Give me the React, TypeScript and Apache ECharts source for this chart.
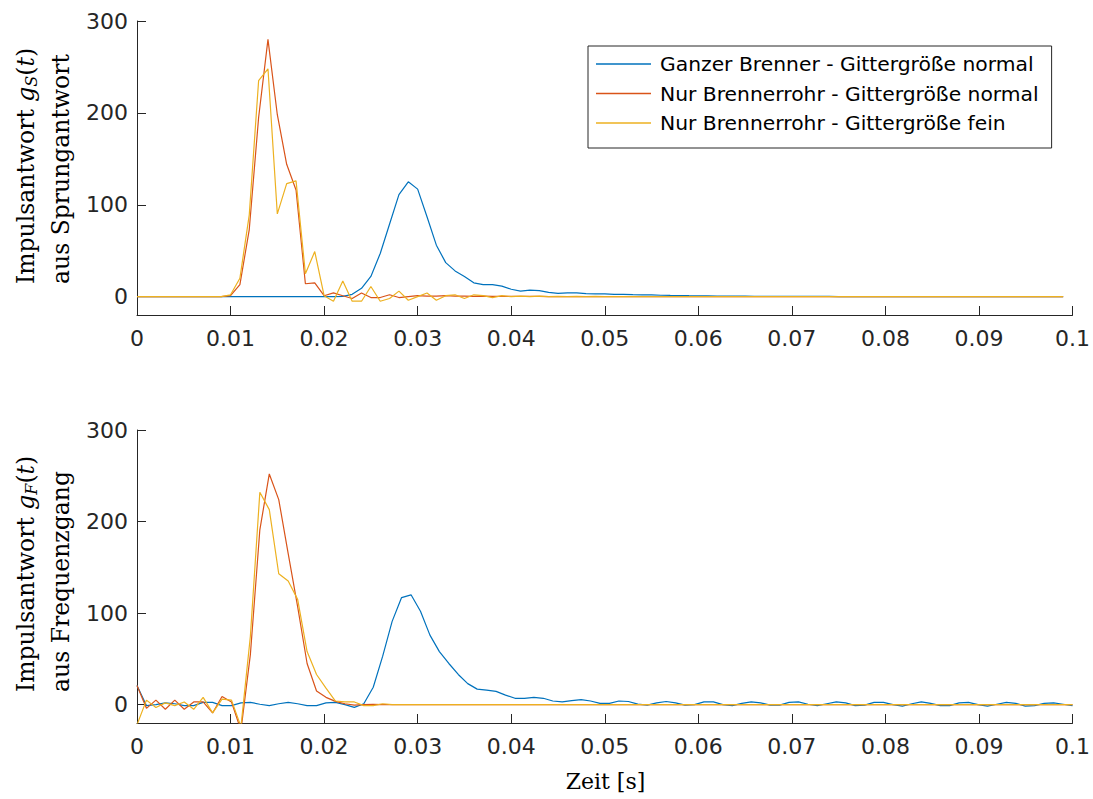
import React, { useEffect, useRef } from "react";
import * as echarts from "echarts";

// ---------- data ----------
const TOP_DT = 0.001; // Sprungantwort: 100 samples, 0 ... 0.099 s
const BOT_DT = 0.1 / 99; // Frequenzgang: 100 samples, 0 ... 0.1 s

const seriesNames = [
  "Ganzer Brenner - Gittergröße normal",
  "Nur Brennerrohr - Gittergröße normal",
  "Nur Brennerrohr - Gittergröße fein",
];
const colors = ["#0072BD", "#D95319", "#EDB120"];
const yTicks = [0, 100, 200, 300];

const topBlue = [
  0, 0, 0, 0, 0, 0, 0, 0, 0, 0,
  0, 0, 0, 0, 0, 0, 0, 0, 0, 0,
  0, 0, 0.3, 2.5, 9, 22, 47, 79, 111, 125,
  117, 87, 56, 37, 28, 22, 15, 13, 13, 11.5,
  8, 6, 7, 6.5, 4.7, 3.6, 4, 4, 3.3, 3,
  3, 2.5, 2.5, 2.2, 2, 1.8, 1.5, 1.3, 1.2, 1,
  0.9, 0.8, 0.7, 0.6, 0.5, 0.5, 0.4, 0.4, 0.3, 0.3,
  0.3, 0.2, 0.2, 0.2, 0.2, 0.1, 0.1, 0.1, 0.1, 0.1,
  0.1, 0.1, 0, 0, 0, 0, 0, 0, 0, 0,
  0, 0, 0, 0, 0, 0, 0, 0, 0, 0,
];
const topRed = [
  0, 0, 0, 0, 0, 0, 0, 0, 0, 0,
  1, 13, 73, 195, 280, 198, 144, 116, 14, 15,
  1, 4, 1, -2, 4, -1, -1, 2, -1, 0,
  1, 0.5, 0.5, 1, 0.5, 0.5, 0.3, 0.5, 0.3, 0.3,
  0.2, 0.2, 0.2, 0.2, 0.1, 0.1, 0.1, 0.1, 0.1, 0.1,
  0, 0, 0, 0, 0, 0, 0, 0, 0, 0,
  0, 0, 0, 0, 0, 0, 0, 0, 0, 0,
  0, 0, 0, 0, 0, 0, 0, 0, 0, 0,
  0, 0, 0, 0, 0, 0, 0, 0, 0, 0,
  0, 0, 0, 0, 0, 0, 0, 0, 0, 0,
];
const topYellow = [
  0, 0, 0, 0, 0, 0, 0, 0, 0, 0,
  2, 20, 89, 235, 248, 90, 123, 126, 25, 49,
  1, -5, 17, -5, -5, 11, -5, -2, 6, -4,
  0, 4, -4, 1, 2, -2, 2, 1, -1, 1,
  0, 0.5, 0, 0.5, 0, 0.3, 0, 0.3, 0, 0.2,
  0, 0, 0, 0, 0, 0, 0, 0, 0, 0,
  0, 0, 0, 0, 0, 0, 0, 0, 0, 0,
  0, 0, 0, 0, 0, 0, 0, 0, 0, 0,
  0, 0, 0, 0, 0, 0, 0, 0, 0, 0,
  0, 0, 0, 0, 0, 0, 0, 0, 0, 0,
];

const botBlue = [
  21, -1, 0, 2, 1, -1, -1, 2.5, 2.5, -1,
  -1, 2, 2.5, 0.5, -1, 1, 2.5, 1, -1, -1,
  2, 2.5, 0, -3, 1, 19, 53, 91, 117, 120,
  102, 76, 58, 45, 33, 23, 17, 16, 14.5, 10.5,
  7, 7, 8, 7, 4, 3, 4.5, 5.5, 4, 1.5,
  1.5, 4, 3.5, 0.7, -0.5, 2, 3.5, 2, -0.5, 0,
  3, 3, 0, -1, 1.5, 3, 2, -0.5, -0.5, 2.5,
  3, 0.5, -1, 1, 3, 2, -1, -0.5, 2.5, 2.5,
  0, -1.5, 1, 3, 1.5, -1, -1, 2, 2.5, 0,
  -1.5, 0.5, 2.5, 1.5, -1.5, -1, 1.5, 2, 0.5, -1,
];
const botRed = [
  21, -4, 5, -5, 5, -5, 3, 3, -9, 9,
  3, -28, 55, 191, 252, 224, 165, 107, 45, 15,
  8, 3.6, 1, -0.5, 0, 0.3, 0, 0, 0, 0,
  0, 0, 0, 0, 0, 0, 0, 0, 0, 0,
  0, 0, 0, 0, 0, 0, 0, 0, 0, 0,
  0, 0, 0, 0, 0, 0, 0, 0, 0, 0,
  0, 0, 0, 0, 0, 0, 0, 0, 0, 0,
  0, 0, 0, 0, 0, 0, 0, 0, 0, 0,
  0, 0, 0, 0, 0, 0, 0, 0, 0, 0,
  0, 0, 0, 0, 0, 0, 0, 0, 0, 0,
];
const botYellow = [
  -22, 5, -3, 2, -1, 3, -5, 8, -9, 6,
  5, -24, 75, 232, 213, 143, 135, 115, 58, 33,
  18, 4, 3, 3, -1, -1, 1, 0, 0, 0,
  0, 0, 0, 0, 0, 0, 0, 0, 0, 0,
  0, 0, 0, 0, 0, 0, 0, 0, 0, 0,
  0, 0, 0, 0, 0, 0, 0, 0, 0, 0,
  0, 0, 0, 0, 0, 0, 0, 0, 0, 0,
  0, 0, 0, 0, 0, 0, 0, 0, 0, 0,
  0, 0, 0, 0, 0, 0, 0, 0, 0, 0,
  0, 0, 0, 0, 0, 0, 0, 0, 0, 0,
];

// ---------- helpers ----------
const toPairs = (vals: number[], dt: number) => vals.map((v, i) => [i * dt, v]);
const AX = "#262626";

function xAxisCfg(gridIndex: number) {
  return {
    type: "value",
    gridIndex,
    min: 0,
    max: 0.1,
    interval: 0.01,
    axisLine: { show: true, onZero: false, lineStyle: { color: AX, width: 1 } },
    axisTick: { show: true, inside: true, length: 9, lineStyle: { color: AX, width: 1 } },
    axisLabel: {
      color: AX,
      fontFamily: "DejaVu Sans",
      fontSize: 22,
      margin: 12,
      formatter: (v: number) => String(parseFloat(v.toFixed(3))),
    },
    splitLine: { show: false },
  };
}
function yAxisCfg(gridIndex: number) {
  return {
    type: "value",
    gridIndex,
    min: -20,
    max: 300,
    axisLine: { show: true, onZero: false, lineStyle: { color: AX, width: 1 } },
    axisTick: {
      show: true,
      inside: true,
      length: 9,
      customValues: yTicks,
      lineStyle: { color: AX, width: 1 },
    },
    axisLabel: {
      color: AX,
      fontFamily: "DejaVu Sans",
      fontSize: 22,
      margin: 9,
      customValues: yTicks,
    },
    splitLine: { show: false },
  };
}
function line(name: string, color: string, data: number[][], idx: number) {
  return {
    type: "line",
    name,
    xAxisIndex: idx,
    yAxisIndex: idx,
    data,
    symbol: "none",
    showSymbol: false,
    clip: true,
    lineStyle: { color, width: 1.2 },
    itemStyle: { color },
  };
}

const serif = "DejaVu Serif";
const richLabel = {
  n: { fontFamily: serif, fontSize: 23.5, color: "#000" },
  i: { fontFamily: serif, fontSize: 23.5, fontStyle: "italic", color: "#000" },
  s: { fontFamily: serif, fontSize: 16, fontStyle: "italic", color: "#000", padding: [12, 0, 0, 0] },
};

export default function App() {
  const ref = useRef<HTMLDivElement>(null);
  useEffect(() => {
    if (!ref.current) return;
    const chart = echarts.init(ref.current, undefined, { renderer: "svg" });
    const option = {
      animation: false,
      backgroundColor: "#ffffff",
      grid: [
        { left: 137, top: 21, width: 937, height: 294, containLabel: false },
        { left: 137, top: 430, width: 937, height: 293, containLabel: false },
      ],
      xAxis: [xAxisCfg(0), xAxisCfg(1)],
      yAxis: [yAxisCfg(0), yAxisCfg(1)],
      legend: {
        show: true,
        orient: "vertical",
        left: 588,
        top: 46,
        data: seriesNames,
        icon: "rect",
        itemWidth: 55,
        itemHeight: 1.3,
        itemGap: 7.5,
        padding: [7, 13, 14, 8],
        borderColor: AX,
        borderWidth: 1,
        backgroundColor: "#ffffff",
        textStyle: { fontFamily: "DejaVu Sans", fontSize: 20.3, color: "#000", lineHeight: 22, padding: [0, 0, 0, 4] },
        selectedMode: false,
      },
      series: [
        line(seriesNames[0], colors[0], toPairs(topBlue, TOP_DT), 0),
        line(seriesNames[1], colors[1], toPairs(topRed, TOP_DT), 0),
        line(seriesNames[2], colors[2], toPairs(topYellow, TOP_DT), 0),
        line(seriesNames[0], colors[0], toPairs(botBlue, BOT_DT), 1),
        line(seriesNames[1], colors[1], toPairs(botRed, BOT_DT), 1),
        line(seriesNames[2], colors[2], toPairs(botYellow, BOT_DT), 1),
      ],
      graphic: [
        {
          type: "text",
          x: 43,
          y: 284,
          rotation: Math.PI / 2,
          style: {
            text: "{n|Impulsantwort }{i|g}{s|S}{n|(}{i|t}{n|)}\n{n|aus Sprungantwort}",
            rich: richLabel,
            align: "left",
            verticalAlign: "middle",
            lineHeight: 35,
          },
        },
        {
          type: "text",
          x: 43,
          y: 692,
          rotation: Math.PI / 2,
          style: {
            text: "{n|Impulsantwort }{i|g}{s|F}{n|(}{i|t}{n|)}\n{n|aus Frequenzgang}",
            rich: richLabel,
            align: "left",
            verticalAlign: "middle",
            lineHeight: 35,
          },
        },
        {
          type: "text",
          x: 605.5,
          y: 781,
          style: {
            text: "Zeit [s]",
            fontFamily: serif,
            fontSize: 22,
            fill: "#000",
            align: "center",
            verticalAlign: "middle",
          },
        },
      ],
    };
    chart.setOption(option as any);
    return () => chart.dispose();
  }, []);
  return (
    <div
      ref={ref}
      style={{ position: "fixed", left: 0, top: 0, width: 1093, height: 799, background: "#fff" }}
    />
  );
}
